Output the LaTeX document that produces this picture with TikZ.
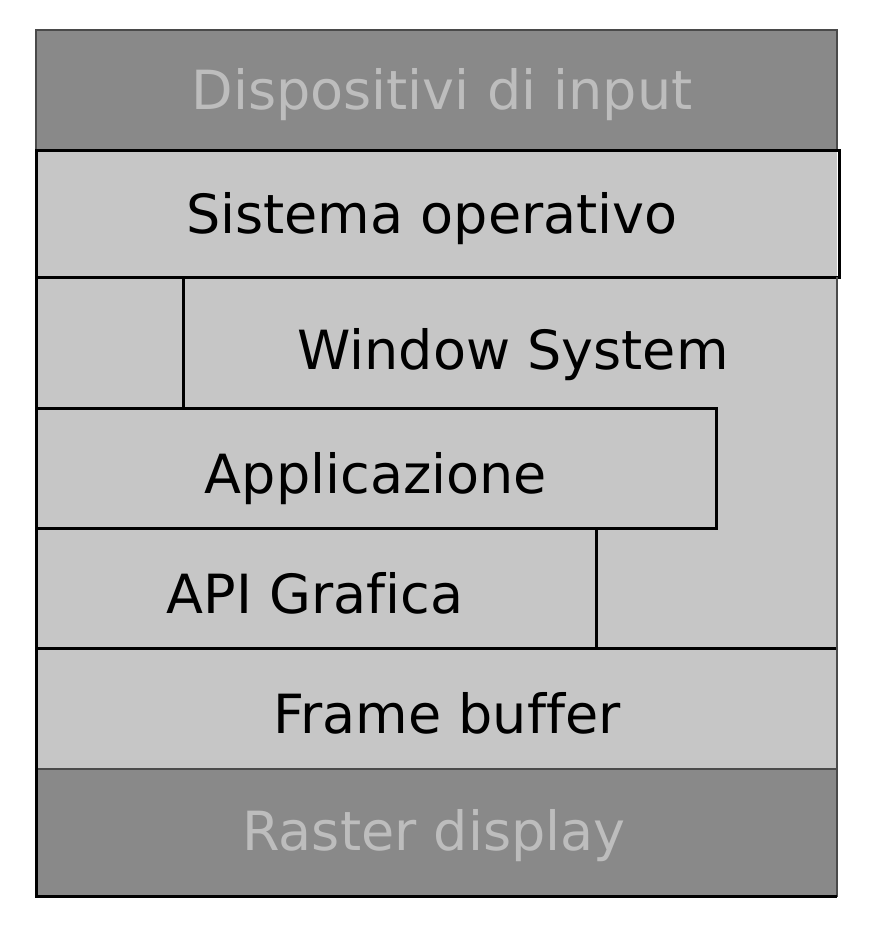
\documentclass[tikz,border=0pt]{standalone}
\usepackage{fontspec}
\setmainfont{DejaVu Sans}[Ligatures=NoCommon]
\usetikzlibrary{positioning}

\definecolor{darkband}{HTML}{898989}
\definecolor{lightband}{HTML}{C6C6C6}
\definecolor{fadedtext}{HTML}{BDBDBD}
\definecolor{thinline}{HTML}{4A4A4A}

\begin{document}
\begin{tikzpicture}[x=1pt, y=-1pt,
  layer/.style={font=\fontsize{54}{64}\selectfont, inner sep=0pt, anchor=base},
  edge/.style={line width=3pt, black},
  thinedge/.style={line width=1.5pt, thinline},
  darkbox/.style={fill=darkband, draw=thinline, line width=1.5pt}]

\useasboundingbox (0,0) rectangle (882,942);

% middle layers share one grey fill
\fill [lightband] (36,150) rectangle (837,769);

% input devices and display
\draw [darkbox] (36,30) rectangle (837,150);
\draw [darkbox] (36,769) rectangle (837,896);

% layer outlines
\draw [edge] (36,150) rectangle (839,277);
\draw [edge] (183,277) -- (183,408);
\draw [edge] (36,408) rectangle (716,528);
\draw [edge] (36,528) rectangle (596,648);
\draw [edge] (36,648) -- (837,648);
\draw [thinedge] (837,277) -- (837,896);
\draw [edge] (36,150) -- (36,896) -- (837,896);

\node [layer, text=fadedtext] (input) at (442,109) {Dispositivi di input};
\node [layer] (os) at (432,233) {Sistema operativo};
\node [layer] (ws) at (513,369) {Window System};
\node [layer] (app) at (376,493) {Applicazione};
\node [layer] (api) at (315,613) {API Grafica};
\node [layer] (fb) at (447,733) {Frame buffer};
\node [layer, text=fadedtext] (display) at (434,850) {Raster display};

\end{tikzpicture}
\end{document}
